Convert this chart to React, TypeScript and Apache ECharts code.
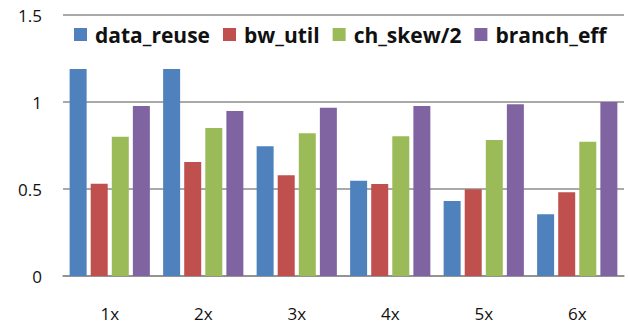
import React, { useEffect, useRef } from "react";
import * as echarts from "echarts";

const categories = ["1x", "2x", "3x", "4x", "5x", "6x"];
const seriesNames = ["data_reuse", "bw_util", "ch_skew/2", "branch_eff"];
const dataReuse = [1.19, 1.19, 0.745, 0.548, 0.431, 0.355];
const bwUtil = [0.53, 0.655, 0.579, 0.529, 0.498, 0.481];
const chSkewHalf = [0.8, 0.85, 0.82, 0.803, 0.782, 0.772];
const branchEff = [0.977, 0.948, 0.967, 0.977, 0.987, 1.0];
const colors = ["#4F81BD", "#C0504D", "#9BBB59", "#8064A2"];
const yTicks = { min: 0, max: 1.5, interval: 0.5 };

export default function App() {
  const ref = useRef<HTMLDivElement>(null);
  useEffect(() => {
    const chart = echarts.init(ref.current!, null, { renderer: "svg" });
    const values = [dataReuse, bwUtil, chSkewHalf, branchEff];
    chart.setOption({
      animation: false,
      textStyle: { fontFamily: "Open Sans" },
      grid: { left: 63, right: 4, top: 15, bottom: 51 },
      legend: {
        top: 19,
        left: 69,
        itemWidth: 13,
        itemHeight: 13,
        itemGap: 13,
        icon: "rect",
        textStyle: {
          fontSize: 21,
          fontWeight: "bold",
          color: "#111",
          fontFamily: "Open Sans",
          padding: [0, 0, 0, 3],
        },
        data: seriesNames,
      },
      xAxis: {
        type: "category",
        data: categories,
        axisLine: { lineStyle: { color: "#8c8c8c", width: 1.5 } },
        axisTick: { show: false },
        axisLabel: { color: "#111", fontSize: 17, margin: 29 },
      },
      yAxis: {
        type: "value",
        min: yTicks.min,
        max: yTicks.max,
        interval: yTicks.interval,
        axisLine: { show: false },
        axisTick: { show: false },
        axisLabel: { color: "#111", fontSize: 17, margin: 21 },
        splitLine: { lineStyle: { color: "#8c8c8c", width: 1.5 } },
      },
      series: seriesNames.map((name, i) => ({
        name,
        type: "bar",
        data: values[i],
        barWidth: 17,
        barGap: "24%",
        itemStyle: { color: colors[i] },
      })),
    });
    return () => chart.dispose();
  }, []);
  return <div ref={ref} style={{ width: 628, height: 327, position: "absolute", left: 0, top: 0, background: "#fff" }} />;
}
